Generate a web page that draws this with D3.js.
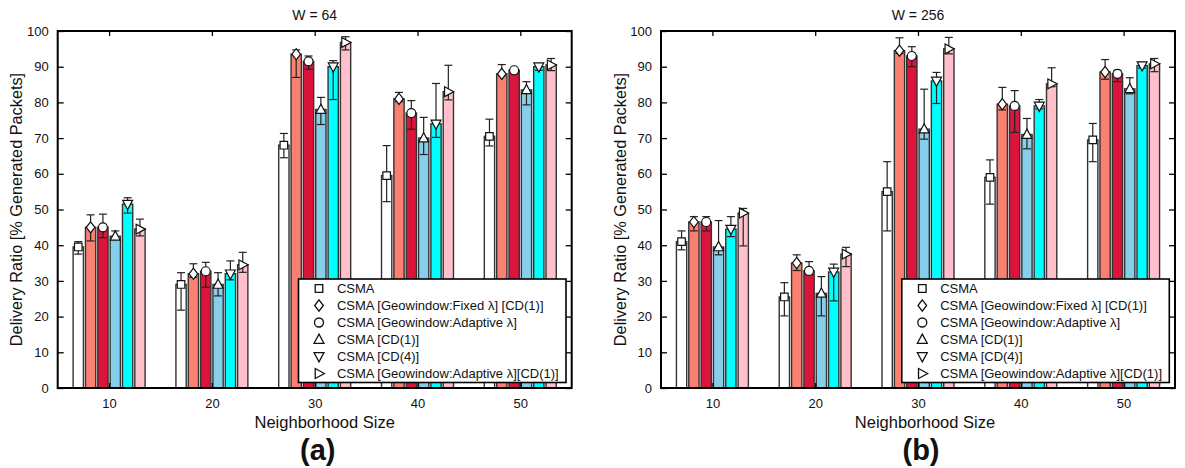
<!DOCTYPE html>
<html>
<head>
<meta charset="utf-8">
<script src="https://cdn.jsdelivr.net/npm/d3@7"></script>
<style>
  html, body { margin: 0; padding: 0; background: #fff; }
  svg { display: block; font-family: "Liberation Sans", Arial, sans-serif; }
</style>
</head>
<body>
<svg id="chart" width="1185" height="468"></svg>
<script>
// ---------- data ----------
const categories = [10, 20, 30, 40, 50];
const yTicks = [0, 10, 20, 30, 40, 50, 60, 70, 80, 90, 100];
const seriesNames = [
  "CSMA",
  "CSMA [Geowindow:Fixed λ] [CD(1)]",
  "CSMA [Geowindow:Adaptive λ]",
  "CSMA [CD(1)]",
  "CSMA [CD(4)]",
  "CSMA [Geowindow:Adaptive λ][CD(1)]"
];
const seriesColors = ["#ffffff", "#fa8072", "#dc143c", "#87ceeb", "#00ffff", "#ffc0cb"];
const seriesMarkers = ["square", "diamond", "circle", "triUp", "triDown", "triRight"];
const panelTitles = ["W = 64", "W = 256"];
const panelTags = ["(a)", "(b)"];
const xTitle = "Neighborhood Size";
const yTitle = "Delivery Ratio [% Generated Packets]";

// W = 64 : mean, lower error bound, upper error bound
const w64_csma      = [39.5, 29.0, 68.0, 59.5, 70.5];
const w64_csma_lo   = [37.5, 21.8, 64.5, 52.2, 67.8];
const w64_csma_hi   = [41.0, 32.3, 71.3, 67.9, 75.3];
const w64_fixed     = [45.0, 32.0, 93.5, 81.0, 88.0];
const w64_fixed_lo  = [41.2, 31.0, 87.0, 80.2, 87.4];
const w64_fixed_hi  = [48.5, 34.8, 94.7, 82.8, 90.6];
const w64_adapt     = [45.0, 32.7, 91.5, 77.0, 89.0];
const w64_adapt_lo  = [42.1, 28.2, 89.3, 72.5, 88.5];
const w64_adapt_hi  = [48.7, 35.2, 93.0, 80.5, 89.5];
const w64_cd1       = [42.5, 29.0, 78.0, 70.0, 83.5];
const w64_cd1_lo    = [41.7, 25.8, 73.8, 65.4, 79.3];
const w64_cd1_hi    = [44.0, 32.3, 81.4, 75.8, 85.8];
const w64_cd4       = [51.5, 32.0, 90.0, 74.0, 90.0];
const w64_cd4_lo    = [49.0, 30.3, 80.8, 70.2, 89.0];
const w64_cd4_hi    = [53.3, 35.6, 91.7, 85.3, 90.8];
const w64_geocd1    = [44.5, 34.5, 96.8, 83.0, 90.5];
const w64_geocd1_lo = [42.6, 32.4, 94.7, 80.7, 88.9];
const w64_geocd1_hi = [47.3, 38.0, 98.4, 90.4, 92.3];

// W = 256
const w256_csma      = [41.0, 25.5, 55.0, 59.0, 69.5];
const w256_csma_lo   = [38.7, 20.2, 44.0, 51.5, 63.4];
const w256_csma_hi   = [44.0, 29.5, 63.4, 63.9, 74.1];
const w256_fixed     = [46.5, 35.0, 94.5, 79.5, 88.5];
const w256_fixed_lo  = [44.0, 32.9, 93.7, 77.9, 86.5];
const w256_fixed_hi  = [48.0, 37.3, 98.1, 84.2, 92.0];
const w256_adapt     = [46.5, 32.8, 93.0, 79.0, 88.0];
const w256_adapt_lo  = [44.0, 31.7, 90.0, 71.6, 85.8];
const w256_adapt_hi  = [48.0, 35.4, 95.6, 83.3, 89.0];
const w256_cd1       = [39.5, 26.5, 72.5, 71.0, 83.8];
const w256_cd1_lo    = [37.3, 20.2, 69.7, 67.0, 82.4];
const w256_cd1_hi    = [46.9, 31.2, 83.7, 75.5, 86.9];
const w256_cd4       = [44.5, 32.5, 86.0, 79.0, 90.3];
const w256_cd4_lo    = [42.4, 24.4, 79.7, 78.2, 89.6];
const w256_cd4_hi    = [48.0, 34.7, 88.4, 80.8, 91.2];
const w256_geocd1    = [49.0, 37.5, 95.0, 85.2, 90.8];
const w256_geocd1_lo = [39.8, 34.0, 93.6, 84.4, 88.6];
const w256_geocd1_hi = [50.3, 39.4, 98.2, 89.7, 92.3];

// ---------- build tables ----------
const panels = [
  {
    mean: [w64_csma, w64_fixed, w64_adapt, w64_cd1, w64_cd4, w64_geocd1],
    lo:   [w64_csma_lo, w64_fixed_lo, w64_adapt_lo, w64_cd1_lo, w64_cd4_lo, w64_geocd1_lo],
    hi:   [w64_csma_hi, w64_fixed_hi, w64_adapt_hi, w64_cd1_hi, w64_cd4_hi, w64_geocd1_hi],
    left: 57.7, right: 571.7, ylabelX: 16, xlabelDx: 10
  },
  {
    mean: [w256_csma, w256_fixed, w256_adapt, w256_cd1, w256_cd4, w256_geocd1],
    lo:   [w256_csma_lo, w256_fixed_lo, w256_adapt_lo, w256_cd1_lo, w256_cd4_lo, w256_geocd1_lo],
    hi:   [w256_csma_hi, w256_fixed_hi, w256_adapt_hi, w256_cd1_hi, w256_cd4_hi, w256_geocd1_hi],
    left: 661, right: 1175, ylabelX: 620, xlabelDx: 7
  }
];

const TOP = 31, BOTTOM = 388;
const svg = d3.select("#chart");

function markerPath(kind, cx, cy, s) {
  const p = d3.path();
  if (kind === "square") {
    p.rect(cx - s * 0.42, cy - s * 0.42, s * 0.84, s * 0.84);
  } else if (kind === "diamond") {
    p.moveTo(cx, cy - s * 0.62); p.lineTo(cx + s * 0.48, cy); p.lineTo(cx, cy + s * 0.62); p.lineTo(cx - s * 0.48, cy); p.closePath();
  } else if (kind === "circle") {
    p.arc(cx, cy, s * 0.5, 0, 2 * Math.PI);
  } else if (kind === "triUp") {
    p.moveTo(cx, cy - s * 0.6); p.lineTo(cx + s * 0.55, cy + s * 0.42); p.lineTo(cx - s * 0.55, cy + s * 0.42); p.closePath();
  } else if (kind === "triDown") {
    p.moveTo(cx, cy + s * 0.6); p.lineTo(cx + s * 0.55, cy - s * 0.42); p.lineTo(cx - s * 0.55, cy - s * 0.42); p.closePath();
  } else {
    p.moveTo(cx + s * 0.6, cy); p.lineTo(cx - s * 0.42, cy - s * 0.55); p.lineTo(cx - s * 0.42, cy + s * 0.55); p.closePath();
  }
  return p.toString();
}

panels.forEach((pan, pi) => {
  const x = d3.scaleLinear().domain([5, 55]).range([pan.left, pan.right]);
  const y = d3.scaleLinear().domain([0, 100]).range([BOTTOM, TOP]);
  const g = svg.append("g");
  const barStep = 1.2, barW = x(1) - x(0);

  // bars
  const rows = [];
  pan.mean.forEach((arr, si) => arr.forEach((v, ci) => rows.push({
    si, ci, v, lo: pan.lo[si][ci], hi: pan.hi[si][ci],
    cx: x(categories[ci] + (si - 2.5) * barStep)
  })));

  g.selectAll("rect.bar").data(rows).join("rect")
    .attr("class", "bar")
    .attr("x", d => d.cx - barW / 2)
    .attr("width", barW)
    .attr("y", d => y(d.v))
    .attr("height", d => y(0) - y(d.v))
    .attr("fill", d => seriesColors[d.si])
    .attr("stroke", "#333")
    .attr("stroke-width", 1.4);

  // error bars
  const eb = g.selectAll("g.err").data(rows).join("g").attr("class", "err")
    .attr("stroke", "#222").attr("stroke-width", 1.2);
  eb.append("line").attr("x1", d => d.cx).attr("x2", d => d.cx)
    .attr("y1", d => y(d.lo)).attr("y2", d => y(d.hi));
  eb.append("line").attr("x1", d => d.cx - 4).attr("x2", d => d.cx + 4)
    .attr("y1", d => y(d.hi)).attr("y2", d => y(d.hi));
  eb.append("line").attr("x1", d => d.cx - 4).attr("x2", d => d.cx + 4)
    .attr("y1", d => y(d.lo)).attr("y2", d => y(d.lo));

  // markers
  g.selectAll("path.mk").data(rows).join("path").attr("class", "mk")
    .attr("d", d => markerPath(seriesMarkers[d.si], d.cx, y(d.v), 9))
    .attr("fill", "#fff").attr("stroke", "#111").attr("stroke-width", 1.2);

  // axes
  const axL = g.append("g").attr("transform", `translate(${pan.left},0)`)
    .call(d3.axisLeft(y).tickValues(yTicks).tickSize(-6).tickPadding(9));
  const axR = g.append("g").attr("transform", `translate(${pan.right},0)`)
    .call(d3.axisRight(y).tickValues(yTicks).tickSize(-6).tickFormat(""));
  const axB = g.append("g").attr("transform", `translate(0,${BOTTOM})`)
    .call(d3.axisBottom(x).tickValues(categories).tickSize(-5).tickPadding(11));
  const axT = g.append("g").attr("transform", `translate(0,${TOP})`)
    .call(d3.axisTop(x).tickValues(categories).tickSize(-5).tickFormat(""));
  [axL, axR, axB, axT].forEach(a => {
    a.select(".domain").remove();
    a.selectAll(".tick line").attr("stroke", "#000").attr("stroke-width", 1.3);
    a.selectAll("text").attr("font-size", 13).attr("fill", "#111")
      .attr("font-family", "'Liberation Sans', Arial, sans-serif");
  });
  g.append("rect").attr("x", pan.left).attr("y", TOP)
    .attr("width", pan.right - pan.left).attr("height", BOTTOM - TOP)
    .attr("fill", "none").attr("stroke", "#000").attr("stroke-width", 2);

  // legend
  const lgX = pan.right - 5.7 - 267.5, lgY = 279;
  const lg = g.append("g");
  lg.append("rect").attr("x", lgX).attr("y", lgY).attr("width", 267.5).attr("height", 103.5)
    .attr("fill", "#fff").attr("stroke", "#000").attr("stroke-width", 1.6);
  seriesNames.forEach((name, si) => {
    const ry = lgY + 9.5 + si * 17;
    lg.append("path").attr("d", markerPath(seriesMarkers[si], lgX + 20.5, ry, 9))
      .attr("fill", "#fff").attr("stroke", "#111").attr("stroke-width", 1.3);
    lg.append("text").attr("x", lgX + 38.4).attr("y", ry).attr("dy", "0.36em")
      .attr("font-size", 13).attr("fill", "#111").text(name);
  });

  // titles
  const mid = (pan.left + pan.right) / 2;
  g.append("text").attr("x", mid).attr("y", 20).attr("text-anchor", "middle")
    .attr("font-size", 14).attr("fill", "#111").text(panelTitles[pi]);
  g.append("text").attr("x", mid + pan.xlabelDx).attr("y", 428).attr("text-anchor", "middle")
    .attr("font-size", 16.5).attr("fill", "#111").text(xTitle);
  g.append("text").attr("transform", `translate(${pan.ylabelX},${(TOP + BOTTOM) / 2}) rotate(-90)`)
    .attr("text-anchor", "middle").attr("dy", "0.36em")
    .attr("font-size", 16.3).attr("fill", "#111").text(yTitle);
  g.append("text").attr("x", mid + 3).attr("y", 460).attr("text-anchor", "middle")
    .attr("font-size", 29).attr("font-weight", "bold").attr("fill", "#111").text(panelTags[pi]);
});
</script>
</body>
</html>
